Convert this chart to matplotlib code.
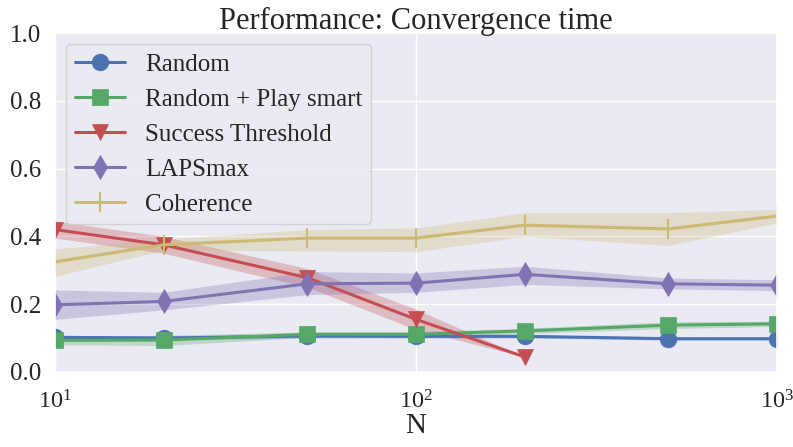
import numpy as np
import matplotlib
matplotlib.use("Agg")
import matplotlib.pyplot as plt
import seaborn as sns

sns.set_theme(style="darkgrid")
plt.rcParams['font.family'] = ['Liberation Serif', 'DejaVu Serif']
plt.rcParams['mathtext.fontset'] = 'stix'

N = [10, 20, 50, 100, 200, 500, 1000]

random_mean = [0.102, 0.100, 0.106, 0.105, 0.105, 0.098, 0.098]
random_lo = [0.095, 0.094, 0.100, 0.100, 0.100, 0.094, 0.094]
random_hi = [0.108, 0.106, 0.111, 0.110, 0.110, 0.102, 0.102]

smart_mean = [0.093, 0.094, 0.111, 0.111, 0.121, 0.138, 0.142]
smart_lo = [0.080, 0.078, 0.102, 0.103, 0.113, 0.128, 0.134]
smart_hi = [0.106, 0.108, 0.118, 0.119, 0.129, 0.148, 0.150]

succ_N = [10, 20, 50, 100, 200]
succ_mean = [0.420, 0.375, 0.278, 0.155, 0.044]
succ_lo = [0.395, 0.350, 0.250, 0.125, 0.044]
succ_hi = [0.445, 0.400, 0.305, 0.185, 0.044]

laps_mean = [0.198, 0.208, 0.260, 0.262, 0.288, 0.260, 0.256]
laps_lo = [0.155, 0.183, 0.228, 0.235, 0.258, 0.245, 0.240]
laps_hi = [0.242, 0.235, 0.296, 0.292, 0.312, 0.277, 0.272]

coh_mean = [0.325, 0.375, 0.395, 0.395, 0.433, 0.422, 0.460]
coh_lo = [0.282, 0.360, 0.357, 0.355, 0.400, 0.373, 0.440]
coh_hi = [0.363, 0.392, 0.420, 0.425, 0.470, 0.470, 0.480]

labels = ["Random", "Random + Play smart", "Success Threshold", "LAPSmax", "Coherence"]
pal = sns.color_palette("deep")
colors = [pal[0], pal[2], pal[3], pal[4], pal[8]]
markers = ["o", "s", "v", "d", "|"]

series = [
    (N, random_mean, random_lo, random_hi),
    (N, smart_mean, smart_lo, smart_hi),
    (succ_N, succ_mean, succ_lo, succ_hi),
    (N, laps_mean, laps_lo, laps_hi),
    (N, coh_mean, coh_lo, coh_hi),
]

fig, ax = plt.subplots(figsize=(7.93, 4.47), dpi=100)
fig.subplots_adjust(left=0.0694, right=0.980, top=0.926, bottom=0.168)

for (x, m, lo, hi), lab, c, mk in zip(series, labels, colors, markers):
    ax.fill_between(x, lo, hi, color=c, alpha=0.3, linewidth=0)
    ms = 12 if mk != "|" else 14
    ax.plot(x, m, marker=mk, color=c, label=lab, linewidth=2.2, markersize=ms,
            markeredgewidth=1.5 if mk == "|" else 0.5)

ax.set_xscale("log")
ax.set_xlim(10, 1000)
ax.set_ylim(0, 1.0)
ax.set_yticks([0.0, 0.2, 0.4, 0.6, 0.8, 1.0])
ax.tick_params(labelsize=18, pad=4)
ax.tick_params(axis='x', pad=7, labelsize=17.5)
ax.set_xlabel("N", fontsize=21, labelpad=0)
ax.set_title("Performance: Convergence time", fontsize=22, pad=3)
ax.legend(loc="upper left", fontsize=18, handlelength=2.0, handletextpad=0.8,
          frameon=True, borderaxespad=0.45, labelspacing=0.5, borderpad=0.35)

fig.savefig("out.png", dpi=100)
